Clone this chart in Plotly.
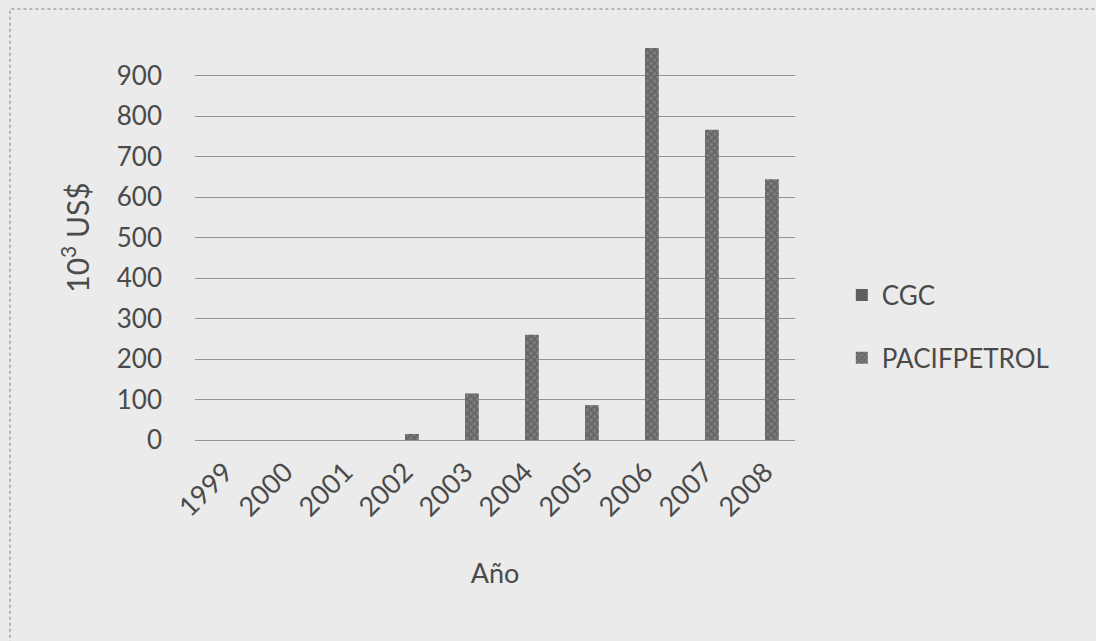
import plotly.graph_objects as go

# Annual amounts per company, thousands of US$
years = ["1999", "2000", "2001", "2002", "2003", "2004", "2005", "2006", "2007", "2008"]
cgc = [0, 0, 0, 0, 0, 0, 0, 0, 0, 0]
pacifpetrol = [0, 0, 0, 15, 115, 260, 86, 968, 766, 644]
y_ticks = [0, 100, 200, 300, 400, 500, 600, 700, 800, 900]

TEXT = "#4a4a4a"
GRID = "#959595"
BG = "#ebebeb"
FONT = "Lato, 'Open Sans', sans-serif"

fig = go.Figure()
fig.add_trace(go.Bar(
    name="CGC", x=years, y=cgc, legendgroup="a",
    marker=dict(color="#5e5e5e", line=dict(width=0)),
))
fig.add_trace(go.Bar(
    name="PACIFPETROL", x=years, y=pacifpetrol, legendgroup="b",
    marker=dict(color="#7c7c7c", line=dict(width=0),
                pattern=dict(shape="x", fgcolor="#4a4a4a", size=5, solidity=0.5)),
))

fig.update_layout(
    width=1096, height=641,
    margin=dict(l=195, r=301, t=35, b=201),
    paper_bgcolor=BG, plot_bgcolor=BG,
    font=dict(family=FONT, size=26, color=TEXT),
    barmode="group", bargap=0.54, bargroupgap=0,
    showlegend=True,
    legend=dict(x=1.078, xanchor="left", y=0.28, yanchor="middle",
                bgcolor="rgba(0,0,0,0)", font=dict(size=26, color=TEXT),
                tracegroupgap=26, traceorder="grouped"),
    xaxis=dict(
        tickangle=-45, showgrid=False, showline=False, zeroline=False,
        ticks="", ticklabelstandoff=10,
        tickfont=dict(size=27, color=TEXT),
        title=dict(text="Año", font=dict(size=27, color=TEXT), standoff=42),
    ),
    yaxis=dict(
        range=[0, 1000], tickvals=y_ticks, ticktext=[str(v) for v in y_ticks],
        showgrid=True, gridcolor=GRID, gridwidth=1,
        zeroline=True, zerolinecolor=GRID, zerolinewidth=1,
        showline=False, ticks="", ticklabelstandoff=32,
        tickfont=dict(size=26, color=TEXT),
        title=dict(text="10<sup>3</sup> US$", font=dict(size=30, color=TEXT), standoff=18),
    ),
    shapes=[dict(
        type="rect", xref="paper", yref="paper",
        x0=-0.3083, x1=1.7, y0=-0.7, y1=1.064,
        line=dict(color="#b3b3b3", width=2, dash="dot"),
        fillcolor="rgba(0,0,0,0)", layer="below",
    )],
)

fig.write_html("out.html")
